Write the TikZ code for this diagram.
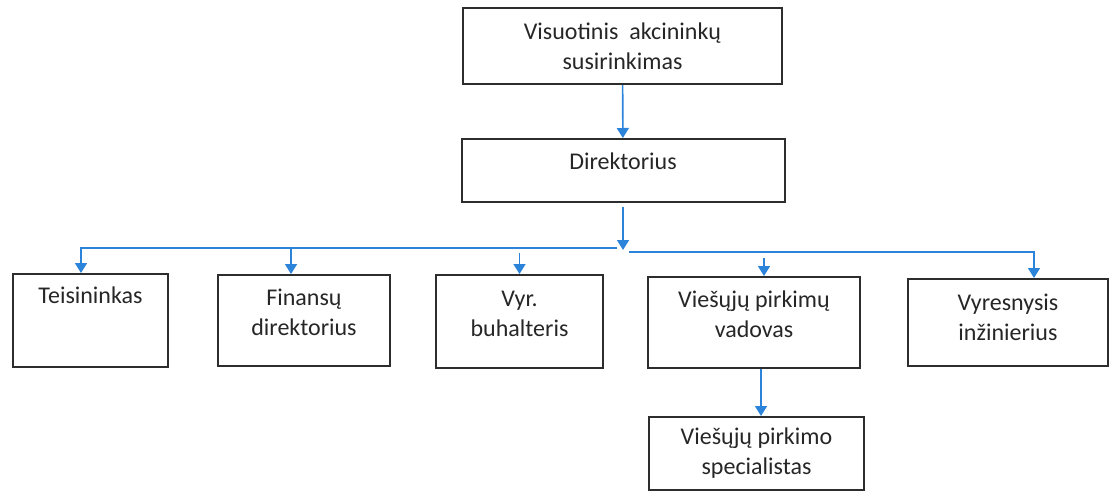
\documentclass[tikz,border=0pt]{standalone}
\usepackage{fontspec}
\setmainfont{Carlito}
\usepackage{tikz}
\usetikzlibrary{arrows.meta}
\usetikzlibrary{calc}
\definecolor{linkblue}{RGB}{44,132,218}
\definecolor{boxgray}{RGB}{45,45,45}
\tikzset{
    unit/.style={draw=boxgray, line width=1pt, inner sep=0pt, align=center, text=black!85,
        font=\fontsize{12pt}{15pt}\selectfont},
    lowered/.style={text depth=8pt},
    wire/.style={draw=linkblue, line width=.8pt},
    link/.style={draw=linkblue, line width=.8pt, -{Triangle[width=6pt,length=5pt]}},
}
\begin{document}
\begin{tikzpicture}[x=0.5pt, y=-0.5pt]
	\useasboundingbox (0,0) rectangle (1114,493);
	\node[unit, minimum width=159.5pt, minimum height=38pt] (ga) at (622.5,46) {Visuotinis\ \ akcininkų\\susirinkimas};
	\node[unit, lowered, text depth=9pt, minimum width=161.5pt, minimum height=31.5pt] (dir) at (623,170.5) {Direktorius};
	\node[unit, text depth=25pt, minimum width=77.5pt, minimum height=46.5pt] (teis) at (90.5,320.5) {Teisininkas};
	\node[unit, lowered, minimum width=86pt, minimum height=45.5pt] (fin) at (304,320.5) {Finansų\\direktorius};
	\node[unit, lowered, minimum width=83.5pt, minimum height=46.5pt] (vyr) at (519.5,321.5) {Vyr.\\buhalteris};
	\node[unit, lowered, minimum width=106pt, minimum height=45.5pt] (vpv) at (754,322.5) {Viešųjų pirkimų\\vadovas};
	\node[unit, lowered, text depth=5pt, minimum width=100pt, minimum height=43.5pt] (inz) at (1008,322.5) {Vyresnysis\\inžinierius};
	\node[unit, minimum width=107.5pt, minimum height=36.5pt] (spec) at (756.5,453.5) {Viešųjų pirkimo\\specialistas};
	% bus
	\coordinate (bus) at (623,250);
	\coordinate (busl) at (617,248);
	\coordinate (busr) at (629,252);
	\coordinate (vpvtop) at ([xshift=5pt]vpv.north);
	\draw[link] (ga) -- (dir);
	\draw[link] ([yshift=-2pt]dir.south) -- (bus);
	\draw[link] (busl) -| ([xshift=-4.75pt]teis.north);
	\draw[link] (busl) -| ([xshift=-6.5pt]fin.north);
	\draw[link] ($(vyr.north |- busl)+(0,5)$) -- (vyr.north);
	\draw[link] ($(vpvtop |- busr)+(0,6)$) -- (vpvtop);
	\draw[link] (busr) -| ([xshift=13pt]inz.north);
	\draw[link] ([xshift=3.5pt]vpv.south) -- ([xshift=2.25pt]spec.north);
\end{tikzpicture}
\end{document}
